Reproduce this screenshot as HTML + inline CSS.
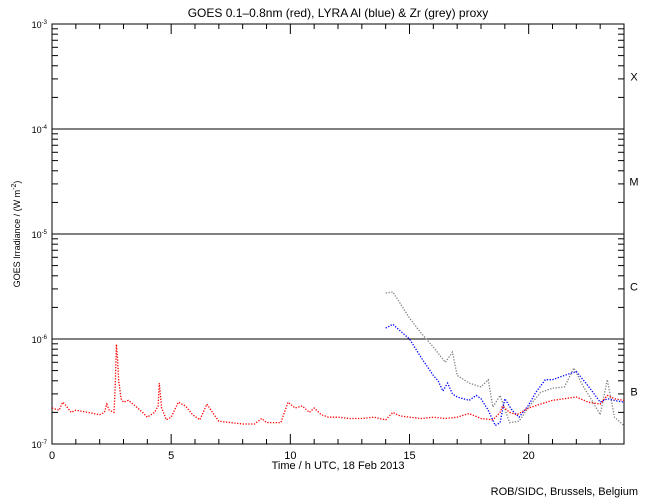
<!DOCTYPE html>
<html><head><meta charset="utf-8"><style>
body{margin:0;background:#fff;}
svg{display:block;font-family:"Liberation Sans",sans-serif;}
</style></head><body>
<svg id="chart" width="650" height="500">
<text x="338" y="17" font-size="12" text-anchor="middle">GOES 0.1–0.8nm (red), LYRA Al (blue) &amp; Zr (grey) proxy</text>
<text x="20" y="234" font-size="9" text-anchor="middle" transform="rotate(-90 20 234)">GOES Irradiance / (W m<tspan dy="-4" font-size="7">-2</tspan><tspan dy="4">)</tspan></text>
<text x="338" y="469" font-size="11" text-anchor="middle">Time / h UTC, 18 Feb 2013</text>
<text x="638" y="495" font-size="11" text-anchor="end">ROB/SIDC, Brussels, Belgium</text>
<g id="axes"></g>
<g id="series"></g>
</svg>
<script>
const X0=52,X1=624,Y0=24,Y1=444;
const xTicks=[0,5,10,15,20];
const yExps=[-7,-6,-5,-4,-3];
const classes=["B","C","M","X"];
const redH=[0,0.3,0.45,0.6,0.8,1.0,1.5,2.0,2.2,2.3,2.4,2.6,2.65,2.7,2.75,2.8,2.9,3.0,3.2,3.5,3.8,4.0,4.3,4.45,4.5,4.6,4.8,5.0,5.3,5.6,5.9,6.2,6.5,6.8,7.0,7.5,8.0,8.5,8.8,9.0,9.6,9.9,10.2,10.5,10.8,11.0,11.3,11.6,12,12.5,13,13.5,14,14.3,14.6,15,15.5,16,16.5,17,17.5,18,18.5,18.8,18.9,19.2,19.5,20,20.5,21,21.5,22,22.5,23,23.3,23.6,24];
const redV=[2.2,2.1,2.5,2.3,2.0,2.1,2.0,1.9,2.0,2.4,2.1,2.0,3.5,8.9,6.5,4.0,2.7,2.5,2.6,2.3,2.0,1.8,2.0,2.3,3.8,2.2,1.7,1.8,2.5,2.3,1.9,1.7,2.4,1.9,1.65,1.6,1.55,1.55,1.75,1.6,1.6,2.5,2.2,2.3,2.0,2.2,1.9,1.8,1.8,1.75,1.75,1.8,1.7,2.0,1.85,1.8,1.75,1.8,1.75,1.8,1.95,1.75,1.7,2.0,2.3,2.0,1.9,2.2,2.4,2.6,2.7,2.8,2.5,2.4,2.9,2.7,2.6];
const blueH=[14,14.3,14.6,15,15.5,16,16.2,16.4,16.6,16.8,17,17.5,17.8,18,18.3,18.6,18.8,19.0,19.3,19.6,20,20.3,20.7,21,21.5,22,22.4,22.7,23,23.3,23.6,24];
const blueV=[12.7,13.8,12,10,6.6,4.5,4.0,3.2,3.8,3.0,2.8,2.6,2.9,2.7,2.1,1.5,1.6,2.7,2.1,1.8,2.35,3.1,4.1,4.1,4.5,4.9,3.8,3.1,2.5,2.7,2.6,2.5];
const greyH=[14,14.3,14.6,15,15.5,16,16.5,16.8,17,17.5,18,18.3,18.5,18.8,19.2,19.6,20,20.5,21,21.5,21.9,22.3,22.7,23,23.3,23.6,24];
const greyV=[27.4,28,22,15.8,11.3,8.4,6.0,7.5,4.5,3.8,3.5,4.1,2.25,2.9,1.6,1.65,2.25,3.1,3.4,3.5,5.3,3.5,2.5,1.9,4.1,1.8,1.5];
const NS="http://www.w3.org/2000/svg";
const xs=h=>X0+(X1-X0)*h/24;
const ys=v=>Y1-(Y1-Y0)*(Math.log10(v)+7)/4;
function mk(t,a,p){const e=document.createElementNS(NS,t);for(const k in a)e.setAttribute(k,a[k]);p.appendChild(e);return e;}
const ax=document.getElementById('axes'),se=document.getElementById('series');
const frame=mk('rect',{x:X0,y:Y0,width:X1-X0,height:Y1-Y0,fill:'none',stroke:'#000','stroke-width':1},ax);


for(let h=0;h<=24;h++){const x=xs(h),L=xTicks.includes(h)?10:5;
 mk('line',{x1:x,x2:x,y1:Y1,y2:Y1-L,stroke:'#000'},ax);mk('line',{x1:x,x2:x,y1:Y0,y2:Y0+L,stroke:'#000'},ax);}
xTicks.forEach(h=>{const t=mk('text',{x:xs(h),y:Y1+15,'font-size':11,'text-anchor':'middle'},ax);t.textContent=h;
 
 });
yExps.forEach((e,i)=>{const y=ys(Math.pow(10,e));
 const t=mk('text',{x:47,y:y+4,'font-size':9,'text-anchor':'end'},ax);t.innerHTML='10<tspan dy="-4" font-size="6">'+e+'</tspan>';
 
 
 if(i>0&&i<4){const l=mk('line',{x1:X0,x2:X1,y1:y,y2:y,stroke:'#000'},ax);
  
  }
 if(i<4){for(let m=2;m<=9;m++){const yy=ys(m*Math.pow(10,e));
  mk('line',{x1:X0,x2:X0+6,y1:yy,y2:yy,stroke:'#000'},ax);mk('line',{x1:X1,x2:X1-6,y1:yy,y2:yy,stroke:'#000'},ax);}
  const c=mk('text',{x:634,y:ys(Math.pow(10,e+0.5))+4,'font-size':11,'text-anchor':'middle'},ax);c.textContent=classes[i];
  
  }
});
function series(H,V,col,name){const pts=H.map((h,i)=>xs(h).toFixed(1)+','+ys(V[i]*1e-7).toFixed(1)).join(' ');
 const p=mk('polyline',{points:pts,fill:'none',stroke:col,'stroke-width':1.3,'stroke-dasharray':'1.3 1.5'},se);
 
 }
series(greyH,greyV,'#808080','zr-proxy-series');
series(blueH,blueV,'#0000ff','al-proxy-series');
series(redH,redV,'#ff0000','goes-series');
</script>
</body></html>
